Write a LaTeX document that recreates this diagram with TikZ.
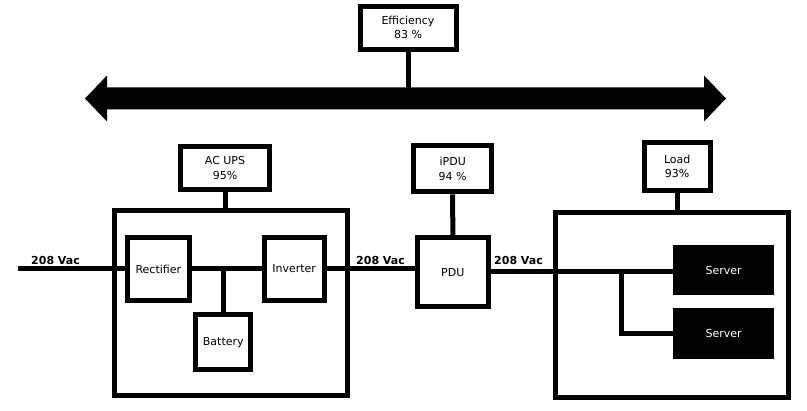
\documentclass[tikz,border=0pt]{standalone}
\usepackage{fontspec}
\setmainfont{DejaVu Sans}
\usetikzlibrary{positioning}

\begin{document}
\begin{tikzpicture}[
    x=1pt, y=-1pt,
    % Styles
    every node/.style={font=\fontsize{11}{14.5}\selectfont, inner sep=0pt},
    tag/.style={draw, line width=5pt, align=center},
    unit/.style={draw, line width=5pt, align=center},
    frame/.style={draw, line width=5pt},
    server/.style={fill=black, text=white, minimum width=100.7pt},
    wire/.style={line width=5pt},
    vac/.style={font=\fontsize{11}{14.5}\selectfont\bfseries, anchor=base west},
]
\useasboundingbox (0,0) rectangle (807,411);

% Efficiency over the double arrow
\node[tag, minimum width=96pt, minimum height=43pt] (eff) at (408,27.6) {Efficiency\\83 \%};
\coordinate (arrL) at (85,98.5);
\coordinate (arrR) at (726,98.5);
\draw[wire] (eff.south) -- (eff.south |- arrL);
\fill (arrL) -- ([shift={(22,-23)}]arrL) -- ([shift={(22,-11)}]arrL)
    -- ([shift={(-22,-11)}]arrR) -- ([shift={(-22,-23)}]arrR) -- (arrR)
    -- ([shift={(-22,23)}]arrR) -- ([shift={(-22,11)}]arrR)
    -- ([shift={(22,11)}]arrL) -- ([shift={(22,23)}]arrL) -- cycle;

% AC UPS
\node[tag, minimum width=88.4pt, minimum height=42.7pt] (upstag) at (225,168) {AC UPS\\95\%};
\node[frame, minimum width=233.3pt, minimum height=185pt] (ups) at (230.8,303.3) {};
\draw[wire] (upstag.south) -- (upstag.south |- ups.north);

% Inside the UPS
\node[unit, minimum width=61.7pt, minimum height=62.7pt] (rect) at (158.3,269) {Rectifier};
\node[unit, minimum width=60pt, minimum height=63.3pt] (inv) at (294.2,269) {Inverter};
\node[unit, minimum width=55pt, minimum height=55pt] (batt) at (223.3,342.3) {Battery};
\coordinate (in) at (18,269);
\draw[wire] (in) -- (rect.west);
\draw[wire] (rect) -- (inv);
\draw[wire] (batt.north) -- (batt.north |- rect.east);

% PDU
\node[tag, minimum width=78.3pt, minimum height=46pt] (pdutag) at (452.7,168.8) {iPDU\\94 \%};
\node[unit, minimum width=70.7pt, minimum height=69.3pt] (pdu) at (452.8,272.2) {PDU};
\draw[wire] (pdutag) -- (pdu);
\draw[wire] (inv.east) -- (inv.east -| pdu.west);

% Load
\node[tag, minimum width=66pt, minimum height=47.7pt] (loadtag) at (677.2,166.3) {Load\\93\%};
\node[frame, minimum width=233.2pt, minimum height=185pt] (load) at (671.6,305) {};
\draw[wire] (loadtag.south) -- (loadtag.south |- load.north);
\node[server, minimum height=50pt] (srv1) at (723.7,270) {Server};
\node[server, minimum height=51.3pt] (srv2) at (723.7,333.3) {Server};
\coordinate (tap) at (621,271.5);
\draw[wire] (pdu.east |- tap) -- (srv1.west |- tap);
\draw[wire] (tap) |- (srv2.west);

% Voltage labels
\node[vac] (vacin) at (31,265) {208 Vac};
\node[vac] (vacups) at (356,265) {208 Vac};
\node[vac] (vacpdu) at (494,265) {208 Vac};

\end{tikzpicture}
\end{document}
